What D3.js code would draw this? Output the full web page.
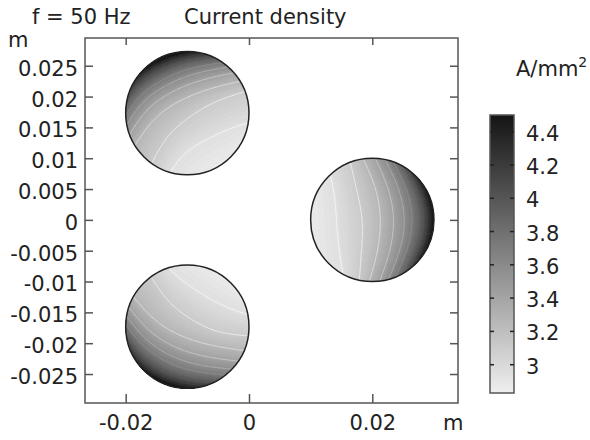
<!DOCTYPE html>
<html>
<head>
<meta charset="utf-8">
<script src="https://cdn.jsdelivr.net/npm/d3@7"></script>
<style>
  body { margin: 0; background: #fff; }
  text { font-family: "DejaVu Sans", sans-serif; font-size: 21px; fill: #222; }
</style>
</head>
<body>
<svg id="chart" width="590" height="440"></svg>
<script>
// conductor centres and radius, in m
var conductors = ["top", "right", "bottom"];
var centerX = [-0.01, 0.02, -0.01];
var centerY = [0.01732, 0, -0.01732];
var radius = 0.01;

// direction in which the current density rises, per conductor (degrees)
var riseAngle = [125, 0, 236];

// contour levels in A/mm^2 and where each one crosses the conductor:
// offset along riseAngle (in radii) at five positions across it
var across = [-1, -0.5, 0, 0.5, 1];
var levels = [2.95, 3.1, 3.25, 3.4, 3.55, 3.7, 3.85, 4.0, 4.15, 4.3, 4.45];
var levelPos = [
  [ // top conductor
    [-0.79, -0.61, -0.52, -0.48, -0.74],
    [-0.26, -0.095, -0.06, -0.10, -0.37],
    [-0.07, 0.135, 0.25, 0.26, 0.06],
    [0.10, 0.32, 0.44, 0.45, 0.24],
    [0.22, 0.46, 0.58, 0.59, 0.37],
    [0.31, 0.57, 0.69, 0.70, 0.47],
    [0.38, 0.66, 0.78, 0.79, 0.55],
    [0.44, 0.73, 0.85, 0.86, 0.61],
    [0.49, 0.79, 0.91, 0.92, 0.66],
    [0.53, 0.84, 0.96, 0.97, 0.70],
    [0.57, 0.88, 1.00, 1.01, 0.74]
  ],
  [ // right conductor
    [-0.45, -0.54, -0.58, -0.61, -0.76],
    [-0.21, -0.176, -0.14, -0.256, -0.37],
    [-0.05, 0.10, 0.15, 0.08, -0.15],
    [0.12, 0.30, 0.37, 0.28, 0.05],
    [0.25, 0.46, 0.55, 0.45, 0.20],
    [0.34, 0.58, 0.68, 0.58, 0.31],
    [0.42, 0.68, 0.79, 0.68, 0.40],
    [0.48, 0.76, 0.87, 0.76, 0.47],
    [0.53, 0.82, 0.93, 0.82, 0.52],
    [0.57, 0.87, 0.98, 0.87, 0.56],
    [0.61, 0.92, 1.03, 0.92, 0.60]
  ],
  [ // bottom conductor
    [-0.66, -0.56, -0.565, -0.63, -0.82],
    [-0.37, -0.145, -0.12, -0.19, -0.49],
    [0.09, 0.23, 0.20, 0.04, -0.20],
    [0.26, 0.42, 0.41, 0.26, 0.00],
    [0.38, 0.56, 0.57, 0.43, 0.16],
    [0.47, 0.67, 0.69, 0.56, 0.28],
    [0.54, 0.76, 0.79, 0.66, 0.37],
    [0.59, 0.83, 0.87, 0.74, 0.44],
    [0.63, 0.89, 0.93, 0.80, 0.50],
    [0.67, 0.93, 0.98, 0.85, 0.55],
    [0.70, 0.97, 1.02, 0.89, 0.59]
  ]
];
// value at the inner and outer edge
var edgeLow = 2.85, edgeHigh = 4.5;
var jMin = 2.83, jMax = 4.5;

var xTicks = [-0.02, 0, 0.02];
var yTicks = [-0.025, -0.02, -0.015, -0.01, -0.005, 0, 0.005, 0.01, 0.015, 0.02, 0.025];
var barTicks = [3, 3.2, 3.4, 3.6, 3.8, 4, 4.2, 4.4];

var svg = d3.select("#chart");

var x = d3.scaleLinear().domain([-0.0266, 0.0339]).range([85, 458]);
var y = d3.scaleLinear().domain([-0.0297, 0.0295]).range([403, 38]);
var color = d3.scaleLinear().domain([jMin, jMax]).range(["#efefef", "#141414"]);

// field of one conductor on an n x n grid over its bounding box
var n = 120, pad = 1.1;
function fieldGrid(k) {
  var th = riseAngle[k] * Math.PI / 180, c = Math.cos(th), s = Math.sin(th);
  var posAt = levelPos[k].map(function (row) { return d3.interpolateBasis(row); });
  var values = new Array(n * n);
  for (var j = 0; j < n; j++) {
    for (var i = 0; i < n; i++) {
      var dx = -pad + 2 * pad * (i + 0.5) / n,
        dy = pad - 2 * pad * (j + 0.5) / n;
      var u = dx * c + dy * s, v = -dx * s + dy * c;
      var t = Math.max(0, Math.min(1, (v + 1) / 2));
      var pos = [-1.05].concat(posAt.map(function (f) { return f(t); }), [1.1]);
      values[j * n + i] = d3.scaleLinear()
        .domain(pos)
        .range([edgeLow].concat(levels, [edgeHigh]))
        .clamp(true)(u);
    }
  }
  return values;
}

var defs = svg.append("defs");
var bands = d3.range(jMin, jMax, 0.02);

conductors.forEach(function (name, k) {
  var cx = centerX[k], cy = centerY[k];
  defs.append("clipPath").attr("id", "clip-" + name)
    .append("circle")
    .attr("cx", x(cx)).attr("cy", y(cy))
    .attr("r", x(cx + radius) - x(cx));

  var proj = d3.geoTransform({
    point: function (gx, gy) {
      this.stream.point(
        x(cx + radius * (-pad + 2 * pad * gx / n)),
        y(cy + radius * (pad - 2 * pad * gy / n))
      );
    }
  });
  var path = d3.geoPath(proj);
  var values = fieldGrid(k);

  var g = svg.append("g").attr("clip-path", "url(#clip-" + name + ")");
  g.selectAll("path.band")
    .data(d3.contours().size([n, n]).thresholds(bands)(values))
    .enter().append("path")
    .attr("class", "band")
    .attr("d", path)
    .attr("fill", function (d) { return color(d.value + 0.01); })
    .attr("stroke", function (d) { return color(d.value + 0.01); })
    .attr("stroke-width", 0.3);

  // contour lines: white in the light part, fading out in the dark part
  g.selectAll("path.iso")
    .data(d3.contours().size([n, n]).thresholds(levels)(values))
    .enter().append("path")
    .attr("class", "iso")
    .attr("d", path)
    .attr("fill", "none")
    .attr("stroke", function (d) {
      var f = (d.value - jMin) / (jMax - jMin);
      return d3.interpolateRgb(color(d.value), "#fff")(Math.max(0, 0.85 - 1.4 * f));
    })
    .attr("stroke-width", 1);

  svg.append("circle")
    .attr("cx", x(cx)).attr("cy", y(cy))
    .attr("r", x(cx + radius) - x(cx))
    .attr("fill", "none")
    .attr("stroke", "#222")
    .attr("stroke-width", 1.5);
});

// axes with inward ticks
function styleAxis(g) {
  g.select(".domain").remove();
  g.selectAll(".tick line").attr("stroke", "#555").attr("stroke-width", 1.5);
  g.selectAll(".tick text").attr("fill", "#222").style("font-size", "21px")
    .style("font-family", "'DejaVu Sans', sans-serif");
}
var fmt = function (d) { return String(d); };

svg.append("g").attr("transform", "translate(0,403)")
  .call(d3.axisBottom(x).tickValues(xTicks).tickSize(-9).tickPadding(12).tickFormat(fmt))
  .call(styleAxis)
  .selectAll(".tick text").attr("dy", "0.71em");
svg.append("g").attr("transform", "translate(0,38)")
  .call(d3.axisTop(x).tickValues(xTicks).tickSize(-7).tickFormat(""))
  .call(styleAxis);
svg.append("g").attr("transform", "translate(85,0)")
  .call(d3.axisLeft(y).tickValues(yTicks).tickSize(-8).tickPadding(7).tickFormat(fmt))
  .call(styleAxis)
  .selectAll(".tick text").attr("dy", "0.45em");
svg.append("g").attr("transform", "translate(458,0)")
  .call(d3.axisRight(y).tickValues(yTicks).tickSize(-8).tickFormat(""))
  .call(styleAxis);

svg.append("rect")
  .attr("x", 85).attr("y", 38).attr("width", 373).attr("height", 365)
  .attr("fill", "none").attr("stroke", "#555").attr("stroke-width", 1.5);

svg.append("text").attr("x", 8).attr("y", 47).text("m");
svg.append("text").attr("x", 443).attr("y", 430).text("m");
svg.append("text").attr("x", 32).attr("y", 24).text("f = 50 Hz");
svg.append("text").attr("x", 184).attr("y", 24).text("Current density");

// colour bar
var bar = d3.scaleLinear().domain([jMin, jMax]).range([393, 115]);
var grad = defs.append("linearGradient").attr("id", "bar-grad")
  .attr("x1", 0).attr("y1", 1).attr("x2", 0).attr("y2", 0);
grad.append("stop").attr("offset", 0).attr("stop-color", color(jMin));
grad.append("stop").attr("offset", 1).attr("stop-color", color(jMax));

svg.append("rect")
  .attr("x", 490).attr("y", bar(jMax)).attr("width", 24).attr("height", bar(jMin) - bar(jMax))
  .attr("fill", "url(#bar-grad)").attr("stroke", "#555").attr("stroke-width", 1.5);

var bt = svg.append("g").selectAll("g").data(barTicks).enter().append("g");
bt.append("line").attr("x1", 490).attr("x2", 494)
  .attr("y1", function (d) { return bar(d); }).attr("y2", function (d) { return bar(d); })
  .attr("stroke", "#222").attr("stroke-width", 1.5);
bt.append("line").attr("x1", 510).attr("x2", 514)
  .attr("y1", function (d) { return bar(d); }).attr("y2", function (d) { return bar(d); })
  .attr("stroke", "#222").attr("stroke-width", 1.5);
bt.append("text").attr("x", 526).attr("y", function (d) { return bar(d) + 9; })
  .text(function (d) { return String(d); });

var unit = svg.append("text").attr("x", 516).attr("y", 76);
unit.append("tspan").text("A/mm");
unit.append("tspan").attr("dy", -9).style("font-size", "14px").text("2");
</script>
</body>
</html>
